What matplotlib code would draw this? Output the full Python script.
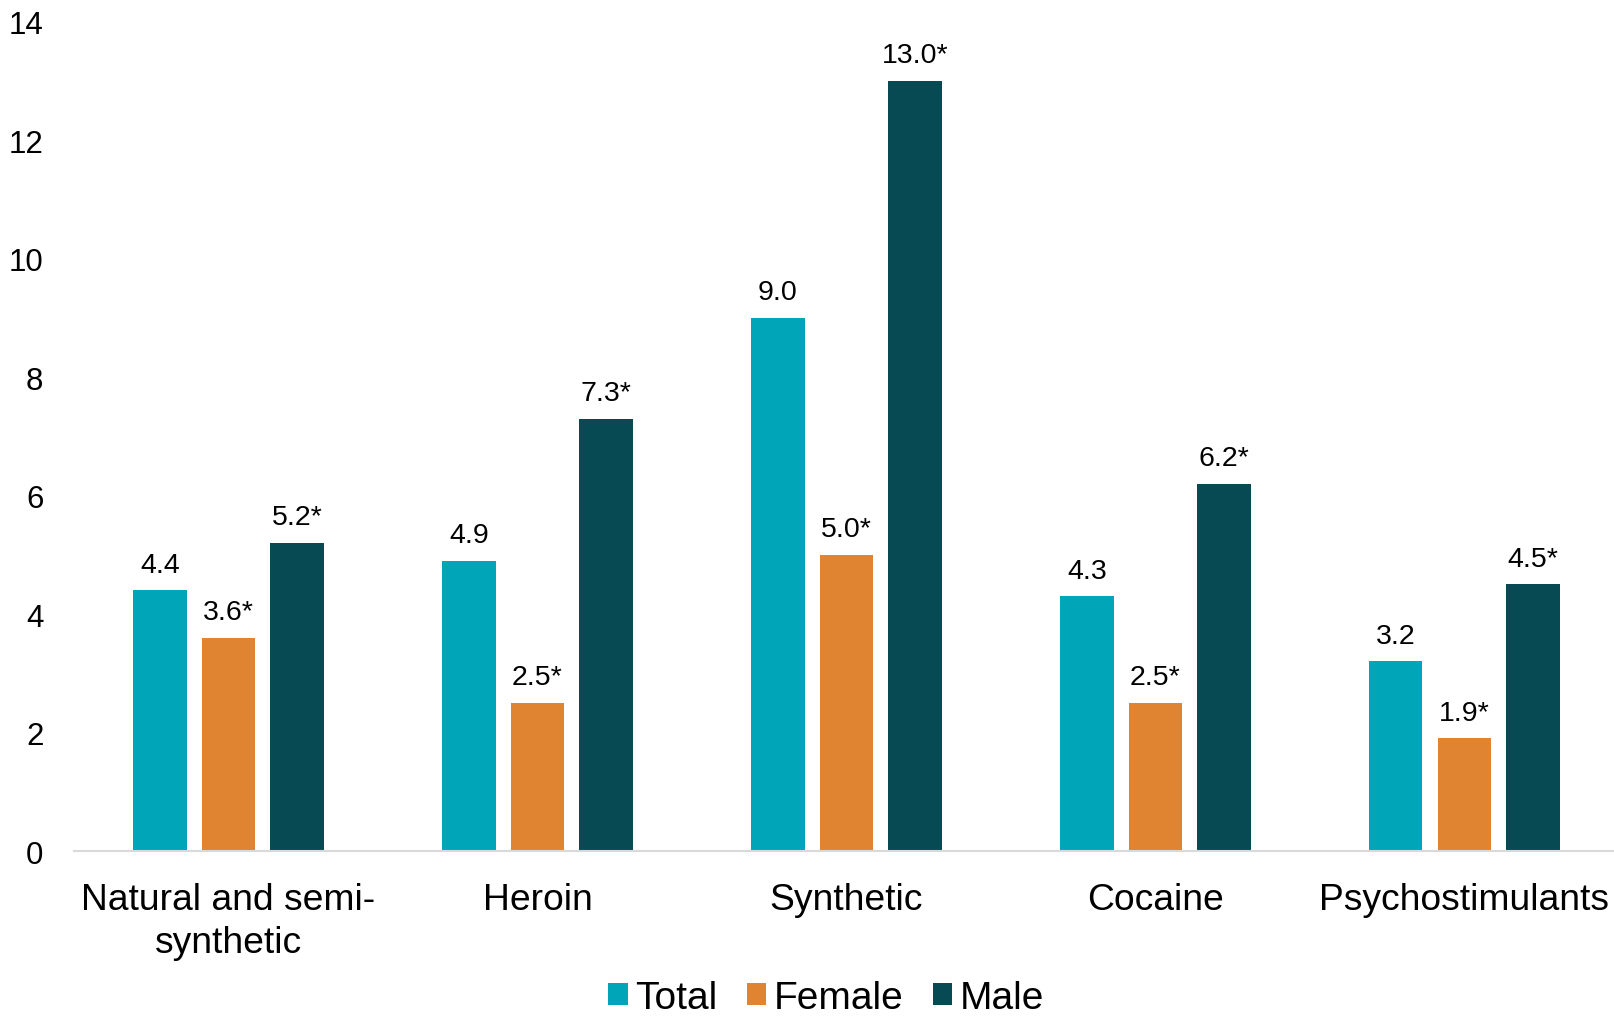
import matplotlib
matplotlib.use("Agg")
import matplotlib.pyplot as plt
import numpy as np

plt.rcParams['font.family'] = ['Liberation Sans', 'DejaVu Sans']

categories = ["Natural and semi-\nsynthetic", "Heroin", "Synthetic", "Cocaine", "Psychostimulants"]
series_names = ["Total", "Female", "Male"]
total = [4.4, 4.9, 9.0, 4.3, 3.2]
female = [3.6, 2.5, 5.0, 2.5, 1.9]
male = [5.2, 7.3, 13.0, 6.2, 4.5]
total_labels = ["4.4", "4.9", "9.0", "4.3", "3.2"]
female_labels = ["3.6*", "2.5*", "5.0*", "2.5*", "1.9*"]
male_labels = ["5.2*", "7.3*", "13.0*", "6.2*", "4.5*"]
yticks = [0, 2, 4, 6, 8, 10, 12, 14]

colors = ["#00A5B7", "#E08431", "#084A53"]

fig = plt.figure(figsize=(16.14, 10.2), dpi=100)
ax = fig.add_axes([74/1614, 1-852/1020, 1-74/1614+0.003, (852-22.6)/1020])

x = np.arange(len(categories))
w = 0.173
pitch = 0.222
for i, (vals, labs, c, name) in enumerate(zip([total, female, male],
                                             [total_labels, female_labels, male_labels],
                                             colors, series_names)):
    pos = x + (i - 1) * pitch
    bars = ax.bar(pos, vals, width=w, color=c, label=name)
    for b, lab in zip(bars, labs):
        ax.annotate(lab, (b.get_x() + b.get_width()/2, b.get_height()),
                    xytext=(0, 9), textcoords="offset points",
                    ha="center", va="bottom", fontsize=20.5, color="black")

ax.set_xlim(-0.5, 4.5)
ax.set_ylim(0, 14)
ax.set_yticks(yticks)
ax.set_yticklabels([str(t) for t in yticks], fontsize=22.5)
ax.set_xticks(x)
ax.set_xticklabels(categories, fontsize=26.8, linespacing=1.3)
ax.tick_params(axis='y', length=0, pad=22)
ax.tick_params(axis='x', length=0, pad=22)
for s in ["top", "right", "left"]:
    ax.spines[s].set_visible(False)
ax.spines["bottom"].set_color("#D9D9D9")
ax.spines["bottom"].set_linewidth(1.5)

leg = fig.legend(loc="lower center", bbox_to_anchor=(0.512, -0.031), ncol=3, frameon=False,
                 fontsize=28, handlelength=0.5, handleheight=0.5, handletextpad=0.2,
                 columnspacing=0.75)

fig.savefig("out.png", dpi=100)
